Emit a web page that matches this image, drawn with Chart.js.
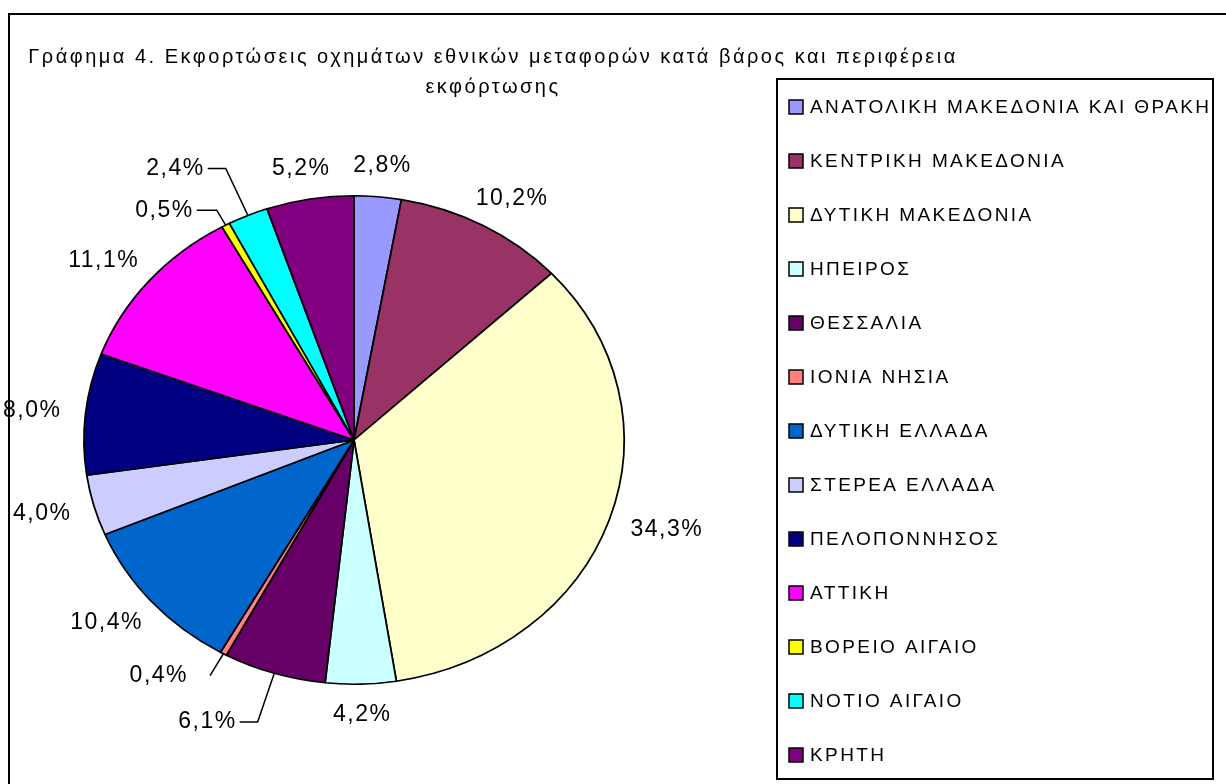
<!DOCTYPE html>
<html>
<head>
<meta charset="utf-8">
<script src="https://cdn.jsdelivr.net/npm/chart.js@4/dist/chart.umd.min.js"></script>
<style>
  html, body { margin: 0; padding: 0; background: #fff; }
  canvas { display: block; }
</style>
</head>
<body>
<canvas id="regionPie" width="1226" height="784"></canvas>
<script>
// Εκφορτώσεις κατά περιφέρεια (% βάρους)
const regions = ["ΑΝΑΤΟΛΙΚΗ ΜΑΚΕΔΟΝΙΑ ΚΑΙ ΘΡΑΚΗ", "ΚΕΝΤΡΙΚΗ ΜΑΚΕΔΟΝΙΑ", "ΔΥΤΙΚΗ ΜΑΚΕΔΟΝΙΑ",
                 "ΗΠΕΙΡΟΣ", "ΘΕΣΣΑΛΙΑ", "ΙΟΝΙΑ ΝΗΣΙΑ", "ΔΥΤΙΚΗ ΕΛΛΑΔΑ", "ΣΤΕΡΕΑ ΕΛΛΑΔΑ",
                 "ΠΕΛΟΠΟΝΝΗΣΟΣ", "ΑΤΤΙΚΗ", "ΒΟΡΕΙΟ ΑΙΓΑΙΟ", "ΝΟΤΙΟ ΑΙΓΑΙΟ", "ΚΡΗΤΗ"];
const shares = [2.8, 10.2, 34.3, 4.2, 6.1, 0.4, 10.4, 4.0, 8.0, 11.1, 0.5, 2.4, 5.2];
const sliceColors = ["#9999FF", "#993366", "#FFFFCC", "#CCFFFF", "#660066", "#FF8080", "#0066CC",
                     "#CCCCFF", "#000080", "#FF00FF", "#FFFF00", "#00FFFF", "#800080"];
const titleLines = ["Γράφημα 4. Εκφορτώσεις οχημάτων εθνικών μεταφορών κατά βάρος και περιφέρεια",
                    "εκφόρτωσης"];

// pie is a bit wider than tall in the original
const stretchX = 1.106;
// labels that sit away from the pie with a leader line (index -> extra radius, horizontal run, gap)
const leaders = { 4: [51, 18, 3], 5: [25, 0, 22], 10: [17, 20, 3], 11: [51, 18, 3] };

function fmt(v) {
    return v.toFixed(1).replace('.', ',') + '%';
}

const framePlugin = {
    id: 'frame',
    beforeDraw(chart) {
        const ctx = chart.ctx;
        ctx.save();
        ctx.fillStyle = '#fff';
        ctx.fillRect(0, 0, chart.width, chart.height);
        ctx.strokeStyle = '#000';
        ctx.lineWidth = 2;
        ctx.strokeRect(9, 14, 1260, 800);

        // title
        ctx.fillStyle = '#000';
        ctx.font = '20px "Liberation Sans", Arial, sans-serif';
        ctx.letterSpacing = '2.5px';
        ctx.textAlign = 'center';
        ctx.textBaseline = 'middle';
        ctx.fillText(titleLines[0], 493, 57);
        ctx.fillText(titleLines[1], 493, 87);
        ctx.restore();
    }
};

const stretchPlugin = {
    id: 'stretch',
    beforeDatasetsDraw(chart) {
        const arc = chart.getDatasetMeta(0).data[0];
        const ctx = chart.ctx;
        ctx.save();
        ctx.translate(arc.x, arc.y);
        ctx.scale(stretchX, 1);
        ctx.translate(-arc.x, -arc.y);
    },
    afterDatasetsDraw(chart) {
        chart.ctx.restore();
    }
};

const labelPlugin = {
    id: 'pctLabels',
    afterDatasetsDraw(chart) {
        const ctx = chart.ctx;
        const meta = chart.getDatasetMeta(0);
        ctx.save();
        ctx.fillStyle = '#000';
        ctx.strokeStyle = '#000';
        ctx.lineWidth = 1.5;
        ctx.font = '23px "Liberation Sans", Arial, sans-serif';
        ctx.letterSpacing = '1.5px';
        ctx.textBaseline = 'middle';
        meta.data.forEach((arc, i) => {
            const p = arc.getProps(['x', 'y', 'startAngle', 'endAngle', 'outerRadius'], true);
            const a = (p.startAngle + p.endAngle) / 2;
            const cx = Math.cos(a), sy = Math.sin(a);
            const at = r => [p.x + r * cx * stretchX, p.y + r * sy];
            const text = fmt(chart.data.datasets[0].data[i]);
            const w = ctx.measureText(text).width;
            const ld = leaders[i];
            if (ld) {
                const edge = at(p.outerRadius);
                const elbow = at(p.outerRadius + ld[0]);
                const dir = cx < 0 ? -1 : 1;
                const endX = elbow[0] + dir * ld[1];
                ctx.beginPath();
                ctx.moveTo(edge[0], edge[1]);
                ctx.lineTo(elbow[0], elbow[1]);
                ctx.lineTo(endX, elbow[1]);
                ctx.stroke();
                ctx.textAlign = dir < 0 ? 'right' : 'left';
                ctx.fillText(text, endX + dir * ld[2], elbow[1]);
            } else {
                const anc = at(p.outerRadius + 22);
                ctx.textAlign = 'center';
                ctx.fillText(text, anc[0] + cx * w / 2, anc[1] + sy * 9);
            }
        });
        ctx.restore();
    }
};

const legendPlugin = {
    id: 'boxLegend',
    afterDraw(chart) {
        const ctx = chart.ctx;
        const ds = chart.data.datasets[0];
        ctx.save();
        ctx.strokeStyle = '#000';
        ctx.lineWidth = 2;
        ctx.strokeRect(777, 79, 436, 700);
        ctx.font = '19px "Liberation Sans", Arial, sans-serif';
        ctx.letterSpacing = '2.4px';
        ctx.textAlign = 'left';
        ctx.textBaseline = 'middle';
        chart.data.labels.forEach((lab, i) => {
            const y = 107 + i * 54;
            ctx.fillStyle = ds.backgroundColor[i];
            ctx.fillRect(789, y - 7, 14, 14);
            ctx.lineWidth = 1.5;
            ctx.strokeRect(789, y - 7, 14, 14);
            ctx.fillStyle = '#000';
            ctx.fillText(lab, 810, y + 1);
        });
        ctx.restore();
    }
};

new Chart(document.getElementById('regionPie'), {
    type: 'pie',
    data: {
        labels: regions,
        datasets: [{
            data: shares,
            backgroundColor: sliceColors,
            borderColor: '#000',
            borderWidth: 1.6
        }]
    },
    options: {
        responsive: false,
        animation: false,
        layout: {
            padding: { left: 109, right: 627, top: 195, bottom: 99 }
        },
        plugins: {
            legend: { display: false },
            title: { display: false },
            tooltip: { enabled: false }
        }
    },
    plugins: [framePlugin, stretchPlugin, labelPlugin, legendPlugin]
});
</script>
</body>
</html>
